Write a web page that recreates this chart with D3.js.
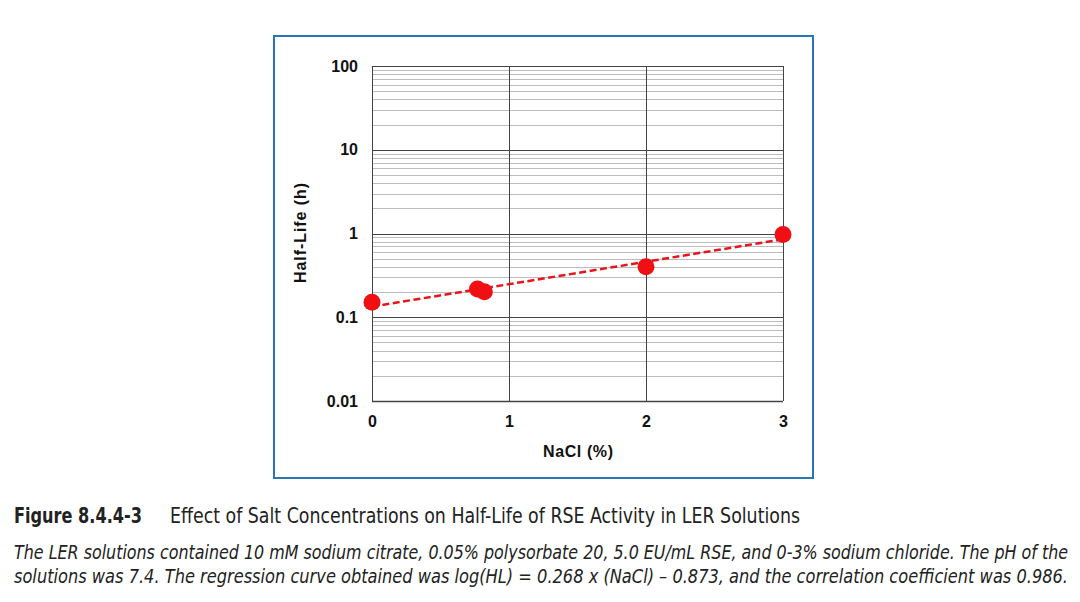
<!DOCTYPE html>
<html><head><meta charset="utf-8">
<script src="https://cdn.jsdelivr.net/npm/d3@7"></script>
<style>body{margin:0;background:#fff}svg{display:block}</style>
</head><body>
<svg id="c" width="1080" height="602"></svg>
<script>
const nacl = [0, 0.77, 0.82, 2, 3];
const halfLife = [0.151, 0.218, 0.202, 0.40, 0.97];
const fitSlope = 0.268, fitIntercept = -0.873;
const fitX = [0, 3];
const yTicks = [0.01, 0.1, 1, 10, 100];
const xTicks = [0, 1, 2, 3];
const xTitle = "NaCl (%)";
const yTitle = "Half-Life (h)";
const figLabel = "Figure 8.4.4-3";
const figTitle = "Effect of Salt Concentrations on Half-Life of RSE Activity in LER Solutions";
const captionLines = [
 "The LER solutions contained 10 mM sodium citrate, 0.05% polysorbate 20, 5.0 EU/mL RSE, and 0-3% sodium chloride. The pH of the",
 "solutions was 7.4. The regression curve obtained was log(HL) = 0.268 x (NaCl) \u2013 0.873, and the correlation coefficient was 0.986."
];

const svg = d3.select("#c");
const L = 372, R = 783, T = 66, B = 401;
const x = d3.scaleLinear().domain([0, 3]).range([L, R]);
const y = d3.scaleLog().domain([0.01, 100]).range([B, T]);
const font = "Liberation Sans, Arial, sans-serif";

svg.append("rect").attr("x", 274).attr("y", 36).attr("width", 539).attr("height", 442)
  .attr("fill", "#fff").attr("stroke", "#2a74b8").attr("stroke-width", 2);

const g = svg.append("g");
const minors = [];
for (let e = -2; e < 2; e++) for (let m = 2; m <= 9; m++) minors.push(m * Math.pow(10, e));
g.selectAll(".mn").data(minors).join("line")
  .attr("x1", L).attr("x2", R).attr("y1", d => Math.round(y(d)) + 0.5).attr("y2", d => Math.round(y(d)) + 0.5)
  .attr("stroke", "#bcbcbc").attr("stroke-width", 1);
g.selectAll(".mj").data(yTicks).join("line")
  .attr("x1", L).attr("x2", R).attr("y1", d => Math.round(y(d)) + 0.5).attr("y2", d => Math.round(y(d)) + 0.5)
  .attr("stroke", "#444").attr("stroke-width", 1);
g.selectAll(".vx").data(xTicks).join("line")
  .attr("x1", d => Math.round(x(d)) + 0.5).attr("x2", d => Math.round(x(d)) + 0.5).attr("y1", T).attr("y2", B)
  .attr("stroke", "#444").attr("stroke-width", 1);
g.append("line").attr("x1", L).attr("x2", R).attr("y1", B + 0.5).attr("y2", B + 0.5).attr("stroke", "#444").attr("stroke-width", 1.5);

const yAxis = d3.axisLeft(y).tickValues(yTicks).tickFormat(d => String(d)).tickSize(0).tickPadding(14);
const ya = svg.append("g").attr("transform", `translate(${L},0)`).call(yAxis);
const xAxis = d3.axisBottom(x).tickValues(xTicks).tickFormat(d3.format("d")).tickSize(0).tickPadding(15);
const xa = svg.append("g").attr("transform", `translate(0,${B})`).call(xAxis);
[ya, xa].forEach(a => {
  a.select(".domain").remove();
  a.selectAll("text").attr("font-family", font).attr("font-size", 16)
    .attr("font-weight", "bold").attr("fill", "#111");
});

const line = d3.line().x(d => x(d)).y(d => y(Math.pow(10, fitSlope * d + fitIntercept)));
svg.append("path").datum(fitX).attr("d", line).attr("fill", "none")
  .attr("stroke", "#e8141b").attr("stroke-width", 2.5).attr("stroke-dasharray", "7,3.5");

svg.selectAll(".pt").data(nacl).join("circle")
  .attr("cx", d => x(d)).attr("cy", (d, i) => y(halfLife[i])).attr("r", 8.5)
  .attr("fill", "#f00f12");

svg.append("text").attr("x", 578).attr("y", 457).attr("text-anchor", "middle")
  .attr("font-family", font).attr("font-size", 16).attr("font-weight", "bold")
  .attr("fill", "#111").attr("textLength", 70).attr("lengthAdjust", "spacing").text(xTitle);
svg.append("text").attr("transform", "translate(306,233) rotate(-90)").attr("text-anchor", "middle")
  .attr("font-family", font).attr("font-size", 16).attr("font-weight", "bold")
  .attr("fill", "#111").attr("textLength", 100).attr("lengthAdjust", "spacing").text(yTitle);

const capFont = "'DejaVu Sans Condensed', 'Liberation Sans Narrow', sans-serif";
svg.append("text").attr("x", 14).attr("y", 523).attr("font-family", capFont).attr("font-size", 21)
  .attr("font-weight", "bold").attr("fill", "#222").attr("textLength", 128).attr("lengthAdjust", "spacingAndGlyphs").text(figLabel);
svg.append("text").attr("x", 170).attr("y", 523).attr("font-family", capFont).attr("font-size", 21)
  .attr("fill", "#222").attr("textLength", 630).attr("lengthAdjust", "spacingAndGlyphs").text(figTitle);
svg.selectAll(".cap").data(captionLines).join("text")
  .attr("transform", (d, i) => `translate(14,${559 + i * 24}) scale(1,1.15)`)
  .attr("font-family", capFont).attr("font-size", 17.5)
  .attr("font-style", "italic").attr("fill", "#222")
  .attr("textLength", 1054).attr("lengthAdjust", "spacingAndGlyphs").text(d => d);
</script>
</body></html>
